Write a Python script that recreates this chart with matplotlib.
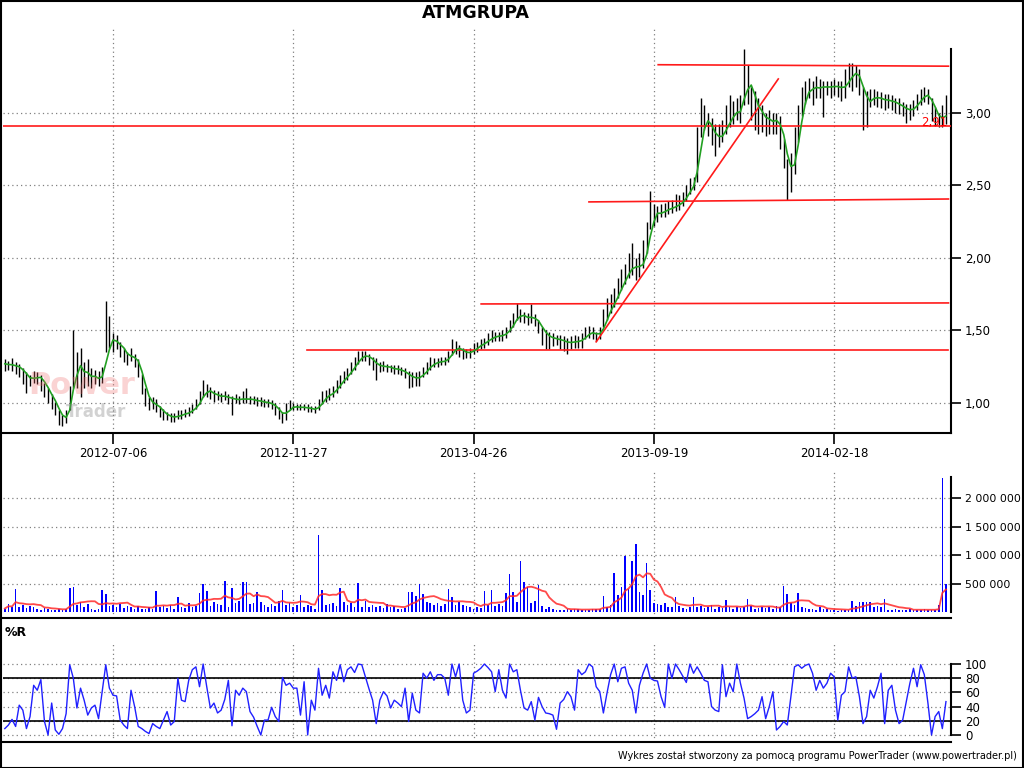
import numpy as np
import pandas as pd
import matplotlib
matplotlib.use("Agg")
import matplotlib.pyplot as plt
from matplotlib.patches import Rectangle
from matplotlib.ticker import FuncFormatter

title = "ATMGRUPA"
date_labels = ["2012-07-06", "2012-11-27", "2013-04-26", "2013-09-19", "2014-02-18"]
date_pos = [30, 80, 130, 180, 230]

close_c = [127,126,126,125,124,120,117,115,119,118,
           116,110,106,102,97,90,88,92,105,130,
           122,125,118,120,117,118,116,120,145,145,
           140,143,138,133,131,133,130,124,112,103,
           99,100,98,94,92,91,90,90,92,92,
           93,94,96,99,103,110,108,107,105,105,
           104,105,103,102,103,102,103,103,102,102,
           101,101,100,100,99,96,93,90,96,98,
           97,97,97,97,96,96,95,99,104,105,
           106,108,112,115,118,120,124,128,131,133,
           133,130,128,125,125,126,124,124,123,123,
           122,120,118,117,117,118,122,124,127,128,
           128,129,129,132,138,139,136,135,134,135,
           138,139,141,142,144,146,146,146,147,149,
           153,157,162,160,159,158,160,157,153,148,
           146,145,144,144,143,142,141,142,143,142,
           144,148,149,148,146,149,158,163,168,172,
           178,184,188,193,196,192,194,200,212,232,
           230,230,232,233,234,235,236,238,240,245,
           250,252,275,295,296,292,287,280,284,287,
           292,298,300,302,300,325,322,310,305,300,
           298,293,296,293,295,288,272,255,262,275,
           295,310,314,318,316,318,317,318,318,317,
           319,318,315,320,327,326,328,322,305,308,
           310,311,310,309,308,309,307,306,305,303,
           301,302,304,308,311,313,312,302,298,295,
           296,302]
high_c = [130,129,131,128,127,124,121,119,122,121,
          119,114,110,106,101,95,92,95,112,150,
          135,138,128,130,124,123,122,125,170,160,
          148,147,142,138,135,138,134,130,120,110,
          104,104,103,98,96,94,93,93,95,95,
          96,97,99,103,108,116,113,111,109,108,
          107,108,106,105,106,105,108,110,105,105,
          104,104,103,103,102,100,97,94,100,102,
          100,99,99,99,99,98,98,103,108,109,
          110,112,116,119,122,124,128,132,136,136,
          136,134,132,131,128,129,127,126,126,126,
          125,124,122,121,121,122,125,128,132,131,
          131,132,132,136,144,143,140,138,137,138,
          141,142,144,145,148,150,149,149,150,152,
          157,162,169,165,163,162,168,161,157,152,
          150,149,148,147,147,146,145,146,147,146,
          148,152,153,152,149,152,165,172,175,179,
          186,192,196,203,210,200,203,212,225,246,
          237,236,237,238,239,240,244,243,245,250,
          255,256,290,310,305,300,296,292,292,295,
          305,312,308,310,312,344,333,318,315,310,
          305,300,302,300,300,298,282,268,272,290,
          305,318,322,324,322,325,323,322,322,322,
          323,322,322,330,334,334,333,330,318,315,
          316,316,315,314,313,313,312,310,310,307,
          306,306,309,313,316,318,316,310,304,300,
          305,312]
low_c = [122,123,122,120,118,113,107,112,114,113,
         108,104,100,96,92,85,84,86,95,110,
         110,104,110,112,110,113,112,114,135,138,
         135,137,132,128,126,129,125,118,106,98,
         95,96,94,90,88,88,87,87,89,89,
         90,91,93,96,99,104,104,103,101,102,
         101,102,99,92,100,99,100,100,99,99,
         98,98,97,97,96,92,89,86,88,95,
         95,95,95,95,94,94,93,95,99,101,
         102,104,107,110,114,116,120,123,127,129,
         129,126,123,116,121,122,121,121,120,120,
         119,117,110,111,112,112,118,120,123,125,
         125,126,126,128,133,134,132,130,131,131,
         134,135,137,138,140,142,143,143,143,145,
         149,152,157,156,155,154,155,153,148,140,
         137,137,139,140,137,136,134,137,138,138,
         138,144,145,144,143,144,152,157,162,166,
         172,178,182,186,188,185,187,193,203,220,
         222,225,228,228,230,231,232,233,236,239,
         244,247,252,283,288,284,278,270,276,280,
         285,290,292,295,293,305,306,295,288,285,
         287,284,285,285,285,275,262,240,245,258,
         280,298,306,310,305,310,310,297,312,310,
         312,311,308,310,318,315,318,312,288,290,
         304,305,304,303,302,303,302,300,299,298,
         293,295,298,302,305,307,306,294,291,290,
         290,292]
volume_k = [60,140,90,400,80,120,70,110,90,50,
            40,70,50,30,40,60,30,50,425,440,
            120,180,90,140,60,40,50,380,310,100,
            120,90,140,70,100,80,60,110,50,60,
            90,60,365,80,110,70,130,60,265,90,
            70,150,90,110,335,500,365,110,180,140,
            120,540,90,425,150,200,525,525,140,160,
            350,180,120,90,140,110,200,380,120,150,
            90,130,295,80,120,100,60,1355,380,120,
            140,160,100,420,180,120,150,90,505,80,
            200,90,120,80,110,70,140,90,100,60,
            50,70,350,350,280,490,310,180,150,120,
            160,110,140,400,265,130,170,120,100,90,
            60,80,70,370,120,395,100,140,110,335,
            665,350,180,900,530,440,150,200,470,110,
            60,80,50,40,30,35,50,40,60,45,
            30,40,35,50,45,60,275,90,120,690,
            300,440,985,400,900,1195,350,300,865,380,
            160,140,120,150,80,90,260,100,70,60,
            80,260,90,110,70,80,120,60,90,70,
            205,80,60,90,70,80,230,100,60,70,
            90,70,80,60,100,80,455,310,150,120,
            330,90,70,50,60,40,80,50,60,40,
            30,25,35,30,40,200,110,175,170,180,
            175,90,110,80,225,40,30,50,35,40,
            30,45,40,35,30,50,40,35,30,120,
            2355,500]
williams_r = [9,14,22,12,42,35,9,26,70,63,
              78,19,0,45,7,1,9,30,99,80,
              38,66,49,28,38,42,23,61,99,66,
              56,55,21,14,9,63,40,12,9,5,
              2,16,12,9,21,33,14,19,80,49,
              47,77,92,96,68,100,68,38,45,31,
              35,50,77,13,63,56,66,61,33,25,
              12,0,21,21,39,26,19,81,70,73,
              66,66,28,75,0,49,35,94,56,70,
              52,89,77,99,75,92,96,88,100,99,
              82,65,49,16,49,61,55,38,49,45,
              40,66,19,59,35,31,87,80,89,77,
              85,85,80,56,100,82,100,49,31,35,
              87,90,94,100,95,89,61,92,63,52,
              100,89,92,63,38,35,47,21,53,40,
              31,30,28,8,45,50,61,54,35,92,
              85,89,100,96,68,61,31,59,85,100,
              75,94,96,73,63,31,70,87,100,80,
              77,76,54,39,100,80,100,92,83,74,
              100,87,96,87,77,75,40,35,33,99,
              54,73,61,100,73,52,23,26,30,35,
              54,23,40,61,7,12,19,14,54,96,
              99,94,98,100,87,63,77,66,73,87,
              82,21,56,61,96,80,82,54,16,26,
              63,52,68,87,16,63,70,35,16,21,
              47,73,94,68,99,85,45,0,26,33,
              9,47]
# analyst lines: (bar_start, price_start, bar_end, price_end)
trend_lines = [(181.2, 3.33, 261.7, 3.32),
               (162.0, 2.385, 261.7, 2.405),
               (132.1, 1.682, 261.7, 1.689),
               (83.8, 1.366, 261.7, 1.366),
               (164.0, 1.421, 214.5, 3.232)]
level_line = 2.91
level_label = "2,91"

close = np.array(close_c) / 100.0
high = np.array(high_c) / 100.0
low = np.array(low_c) / 100.0
vol = np.array(volume_k, dtype=float)
wr = np.array(williams_r, dtype=float)
xs = np.arange(len(close))
ma_price = pd.Series(close).rolling(3, min_periods=1).mean().values
ma_vol = pd.Series(vol).rolling(8, min_periods=1).mean().values

W, H = 1024, 768
fig = plt.figure(figsize=(W / 100, H / 100), dpi=100)


def rect(l, t, r, b):
    return [l / W, 1 - b / H, (r - l) / W, (b - t) / H]


ax1 = fig.add_axes(rect(3, 28, 951, 433))
ax2 = fig.add_axes(rect(3, 470, 951, 618))
ax3 = fig.add_axes(rect(3, 644, 951, 742))

grid_kw = dict(color="#808080", linestyle=(0, (1, 2.5)), linewidth=0.9)
for ax in (ax1, ax2, ax3):
    ax.set_xlim(-0.5, 262.4)
    ax.spines["top"].set_visible(False)
    ax.spines["left"].set_visible(False)
    ax.spines["bottom"].set_linewidth(1.5)
    ax.spines["right"].set_linewidth(1.5)
    ax.yaxis.tick_right()
    ax.set_xticks(date_pos)
    ax.tick_params(axis="y", direction="out", length=7, width=1.2,
                   labelsize=8.5, pad=3)
    ax.grid(True, **grid_kw)
    ax.set_axisbelow(True)

# price panel
ax1.set_ylim(0.793, 3.583)
ax1.vlines(xs, low, high, color="black", linewidth=1.0, zorder=2)
ax1.plot(xs, ma_price, color="#22a022", linewidth=1.2, zorder=4)
ax1.axhline(level_line, color="#ff1a1a", linewidth=1.2, zorder=3)
for x0, y0, x1, y1 in trend_lines:
    ax1.plot([x0, x1], [y0, y1], color="#ff1a1a", linewidth=1.2, zorder=3)
ax1.text(261.5, level_line + 0.025, level_label, color="red", fontsize=8.5,
         ha="right", va="center", zorder=5)
ax1.set_yticks([1.0, 1.5, 2.0, 2.5, 3.0])
ax1.yaxis.set_major_formatter(FuncFormatter(lambda v, p: f"{v:.2f}".replace(".", ",")))
ax1.spines["right"].set_bounds(0.793, 3.44)
ax1.set_xticklabels(date_labels)
ax1.tick_params(axis="x", direction="out", length=8, width=1.2, labelsize=8.5, pad=2)

# volume panel
ax2.set_ylim(-107, 2500)
ax2.bar(xs, vol, width=0.45, color="#0000ff", zorder=2)
ax2.plot(xs, ma_vol, color="#ff2a2a", linewidth=1.3, alpha=0.85, zorder=3)
ax2.set_yticks([500, 1000, 1500, 2000])
ax2.yaxis.set_major_formatter(FuncFormatter(lambda v, p: f"{int(v * 1000):,}".replace(",", " ")))
ax2.spines["right"].set_bounds(0, 2370)
ax2.tick_params(axis="x", length=0, labelbottom=False)
ax2.tick_params(axis="y", labelsize=7.8, pad=3)

# %R panel
ax3.set_ylim(-9.9, 128.2)
ax3.plot(xs, wr, color="#2020ff", linewidth=1.0, zorder=3)
ax3.axhline(20, color="black", linewidth=1.2, zorder=2)
ax3.axhline(80, color="black", linewidth=1.2, zorder=2)
ax3.set_yticks([0, 20, 40, 60, 80, 100])
ax3.spines["right"].set_bounds(0, 100)
ax3.tick_params(axis="x", length=0, labelbottom=False)

# texts
fig.text(476 / W, 1 - 13 / H, title, ha="center", va="center",
         fontsize=12.5, fontweight="bold")
fig.text(5 / W, 1 - 632 / H, "%R", ha="left", va="center",
         fontsize=9, fontweight="bold")
fig.text(1017 / W, 1 - 756 / H,
         "Wykres został stworzony za pomocą programu PowerTrader (www.powertrader.pl)",
         ha="right", va="center", fontsize=7)
fig.text(28 / W, 1 - 386 / H, "Power", ha="left", va="center", fontsize=22,
         fontweight="bold", color="#f07070", alpha=0.3)
fig.text(66 / W, 1 - 412 / H, "Trader", ha="left", va="center", fontsize=12,
         fontweight="bold", color="#808080", alpha=0.35)

fig.add_artist(Rectangle((0.5 / W, 0.5 / H), 1 - 1.5 / W, 1 - 1.5 / H,
                         transform=fig.transFigure, fill=False,
                         edgecolor="black", linewidth=1.5))

fig.savefig("out.png", dpi=100)
